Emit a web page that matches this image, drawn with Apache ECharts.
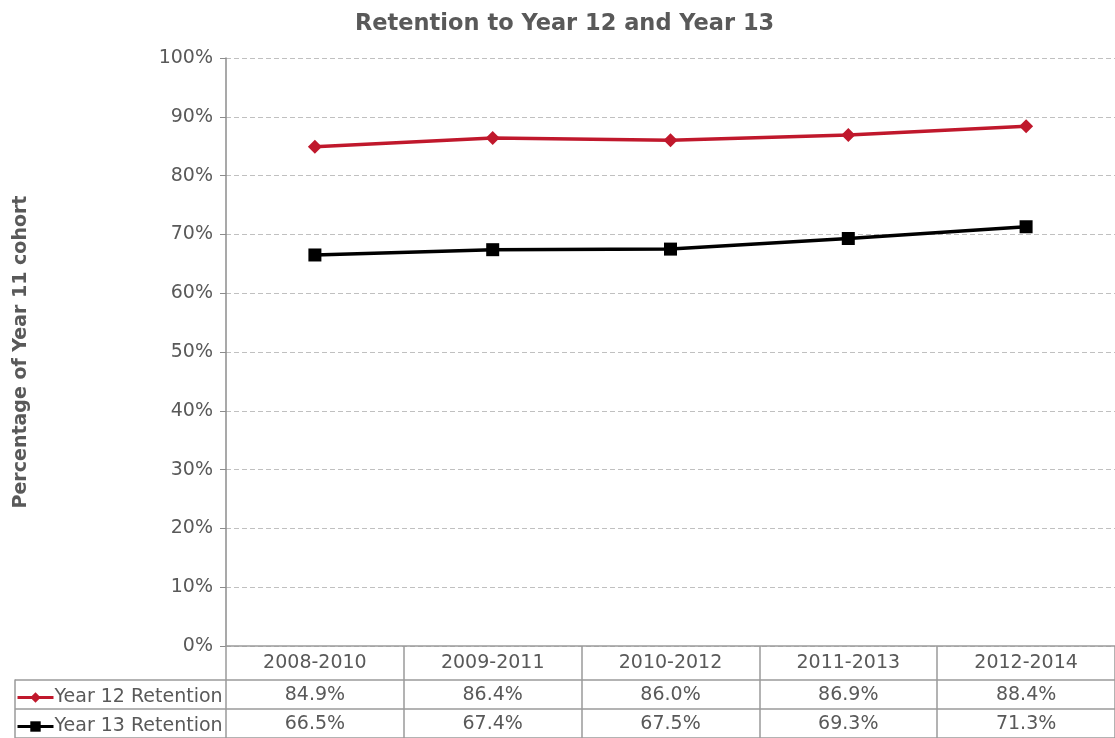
<!DOCTYPE html>
<html>
<head>
<meta charset="utf-8">
<script src="https://cdn.jsdelivr.net/npm/echarts@6/dist/echarts.min.js"></script>
<style>html,body{margin:0;padding:0;background:#fff}#c{width:1115px;height:738px}</style>
</head>
<body>
<div id="c"></div>
<script>
const categories = ['2008-2010', '2009-2011', '2010-2012', '2011-2013', '2012-2014'];
const seriesNames = ['Year 12 Retention', 'Year 13 Retention'];
const year12 = [84.9, 86.4, 86.0, 86.9, 88.4];
const year13 = [66.5, 67.4, 67.5, 69.3, 71.3];
const yTicks = [0, 10, 20, 30, 40, 50, 60, 70, 80, 90, 100];

const FONT = 'DejaVu Sans';
const TXT = '#595959';
const LINE = '#9a9a9a';
const RED = '#C0182C';
const FS = 19;

const cellData = [];
[year12, year13].forEach((arr, r) => arr.forEach((v, i) => cellData.push([i, r, v])));

const legendBase = {
  orient: 'horizontal', left: 16, padding: 0,
  itemWidth: 36, itemHeight: 13,
  lineStyle: {width: 3},
  textStyle: {fontFamily: FONT, fontSize: FS, color: TXT, padding: [0, 0, 0, -4]}
};

const chart = echarts.init(document.getElementById('c'), null, {renderer: 'canvas'});
chart.setOption({
  animation: false,
  backgroundColor: '#fff',
  textStyle: {fontFamily: FONT},
  title: {
    text: 'Retention to Year 12 and Year 13',
    left: 350, top: 8,
    textStyle: {fontFamily: FONT, fontSize: 22.5, fontWeight: 'bold', color: TXT}
  },
  legend: [
    Object.assign({data: [seriesNames[0]], top: 688}, legendBase),
    Object.assign({data: [seriesNames[1]], top: 717}, legendBase)
  ],
  grid: [
    {left: 226, right: 0, top: 58, bottom: 92},
    {left: 15, right: 0, top: 680, height: 58},
    {left: 226, right: 0, top: 680, height: 58}
  ],
  xAxis: [
    {
      type: 'category', gridIndex: 0, data: categories, boundaryGap: true,
      axisLine: {show: true, lineStyle: {color: LINE, width: 1.5}},
      axisTick: {show: true, length: 92, alignWithLabel: false, lineStyle: {color: LINE, width: 1.5}},
      axisLabel: {margin: 8, fontFamily: FONT, fontSize: FS, color: TXT},
      splitLine: {show: false}
    },
    {type: 'value', gridIndex: 1, show: false, min: 0, max: 1},
    {type: 'category', gridIndex: 2, show: false, data: categories, boundaryGap: true}
  ],
  yAxis: [
    {
      type: 'value', gridIndex: 0, min: yTicks[0], max: yTicks[yTicks.length - 1], interval: 10,
      name: 'Percentage of Year 11 cohort', nameLocation: 'middle', nameGap: 195, nameRotate: 90,
      nameTextStyle: {fontFamily: FONT, fontSize: FS, fontWeight: 'bold', color: TXT},
      axisLine: {show: true, lineStyle: {color: '#8c8c8c', width: 1.5}},
      axisTick: {show: true, length: 6, lineStyle: {color: '#8c8c8c'}},
      axisLabel: {formatter: '{value}%', margin: 13, fontFamily: FONT, fontSize: FS, color: TXT},
      splitLine: {show: true, lineStyle: {color: '#c0c0c0', type: [5, 3], width: 1}}
    },
    {
      type: 'category', gridIndex: 1, data: seriesNames, inverse: true,
      axisLine: {show: true, lineStyle: {color: LINE, width: 1.5}},
      axisTick: {show: false}, axisLabel: {show: false},
      splitLine: {show: true, lineStyle: {color: LINE, width: 1.5}}
    },
    {type: 'category', gridIndex: 2, show: false, data: seriesNames, inverse: true}
  ],
  series: [
    {
      name: seriesNames[0], type: 'line', xAxisIndex: 0, yAxisIndex: 0, data: year12,
      symbol: 'diamond', symbolSize: 14,
      lineStyle: {color: RED, width: 3.5}, itemStyle: {color: RED}
    },
    {
      name: seriesNames[1], type: 'line', xAxisIndex: 0, yAxisIndex: 0, data: year13,
      symbol: 'rect', symbolSize: 13,
      lineStyle: {color: '#000', width: 3.5}, itemStyle: {color: '#000'}
    },
    {
      name: 'cells', type: 'custom', xAxisIndex: 2, yAxisIndex: 2, data: cellData, silent: true,
      renderItem: function (params, api) {
        const pt = api.coord([api.value(0), api.value(1)]);
        return {
          type: 'text',
          x: pt[0], y: pt[1] + 1,
          style: {
            text: api.value(2).toFixed(1) + '%',
            fill: TXT, font: FS + 'px "' + FONT + '"',
            align: 'center', verticalAlign: 'middle'
          }
        };
      }
    }
  ]
});
</script>
</body>
</html>
